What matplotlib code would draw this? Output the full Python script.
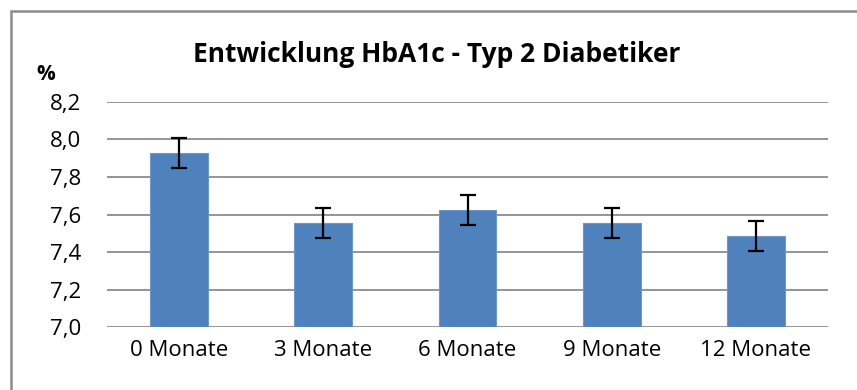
import numpy as np
import matplotlib.pyplot as plt
from matplotlib.patches import Rectangle

# -----------------------------
# Data
# -----------------------------
categories = ["0 Monate", "3 Monate", "6 Monate", "9 Monate", "12 Monate"]
hba1c = [7.93, 7.555, 7.625, 7.555, 7.485]
errors = [0.08, 0.08, 0.08, 0.08, 0.08]
yticks = [7.0, 7.2, 7.4, 7.6, 7.8, 8.0, 8.2]

plt.rcParams['font.family'] = ['Open Sans', 'DejaVu Sans']

# -----------------------------
# Plot
# -----------------------------
fig = plt.figure(figsize=(8.57, 3.9), dpi=100)
ax = fig.add_axes([0.1249, 0.1615, 0.8413, 0.577])

x = np.arange(len(categories))
ax.bar(x, [v - 7.0 for v in hba1c], bottom=7.0, width=0.4, color="#4f81bd",
       edgecolor="#6f97c8", linewidth=0.8, zorder=3)
ax.errorbar(x, hba1c, yerr=errors, fmt="none", ecolor="black",
            elinewidth=1.6, capsize=5.5, capthick=1.6, zorder=4)

ax.set_xlim(-0.5, len(categories) - 0.5)
ax.set_ylim(7.0, 8.2)
ax.set_yticks(yticks)
ax.set_yticklabels([f"{t:.1f}".replace(".", ",") for t in yticks], fontsize=16)
ax.set_xticks(x)
ax.set_xticklabels(categories, fontsize=16)
ax.tick_params(axis="y", length=0, pad=18.5)
ax.tick_params(axis="x", length=0, pad=9)

ax.grid(axis="y", color="#8c8c8c", linewidth=1.3, zorder=0)
for s in ax.spines.values():
    s.set_visible(False)

fig.text(0.51, 0.86, "Entwicklung HbA1c - Typ 2 Diabetiker", ha="center", va="center",
         fontsize=19, fontweight="bold")
fig.text(0.053, 0.81, "%", ha="center", va="center", fontsize=15, fontweight="bold")

# Chart border (runs off the right and bottom edges)
fig.patches.append(Rectangle((11 / 857, -20 / 390), 870 / 857, 399 / 390,
                             transform=fig.transFigure, fill=False,
                             edgecolor="#8c8c8c", linewidth=1.8))

fig.savefig("out.png", dpi=100)
